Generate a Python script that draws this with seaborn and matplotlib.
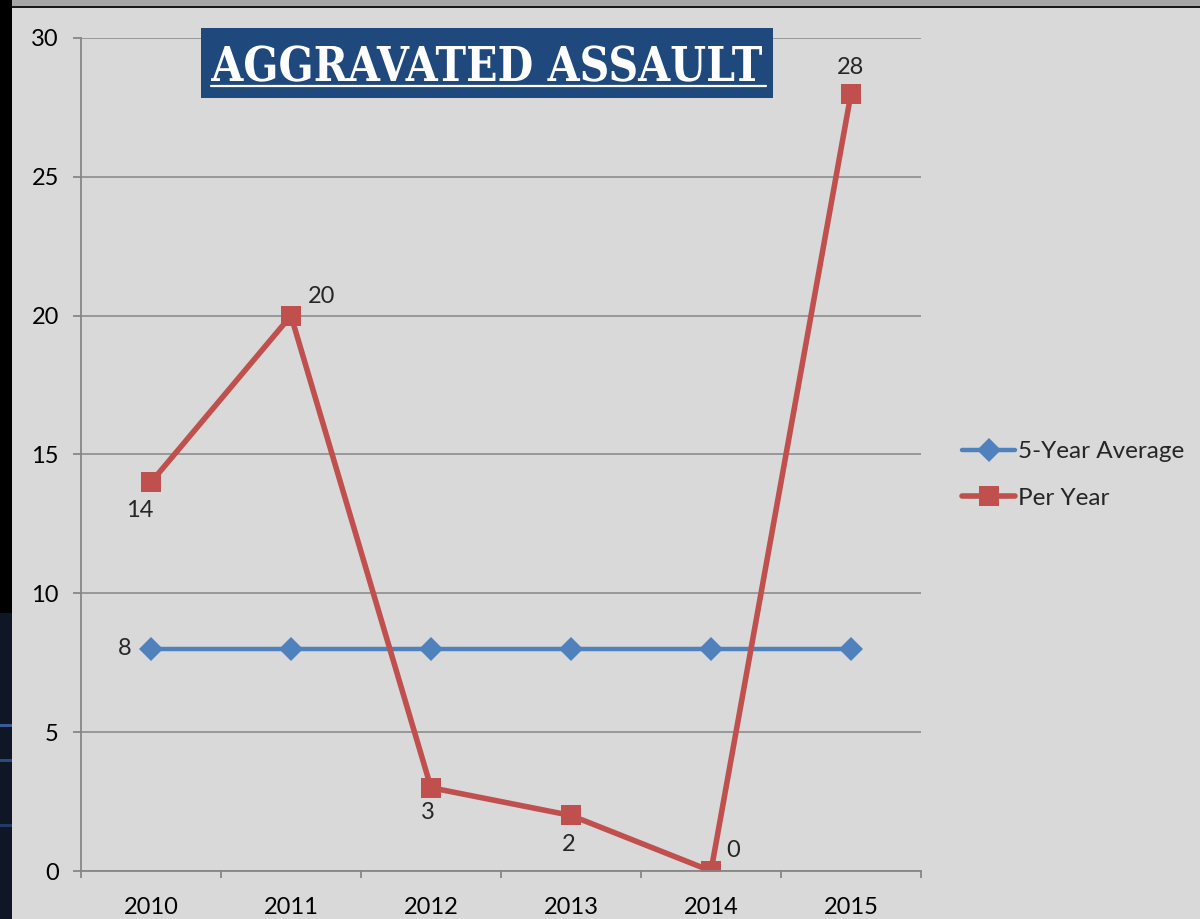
import numpy as np
import pandas as pd
import matplotlib
matplotlib.use('Agg')
import matplotlib.pyplot as plt
import seaborn as sns
from matplotlib.patches import Rectangle, PathPatch
from matplotlib.lines import Line2D
from matplotlib.textpath import TextPath
from matplotlib.font_manager import FontProperties
from matplotlib.transforms import Affine2D, IdentityTransform

years = ['2010', '2011', '2012', '2013', '2014', '2015']
five_year_avg = [8, 8, 8, 8, 8, 8]
per_year = [14, 20, 3, 2, 0, 28]
title = 'AGGRAVATED ASSAULT'

bg = '#d9d9d9'
blue = '#4f81bd'
red = '#c0504d'
grid_col = '#868686'

sns.set_theme(style='white')
plt.rcParams['font.family'] = ['Lato', 'DejaVu Sans']

W, H = 1200, 919
fig = plt.figure(figsize=(12, 9.19), dpi=100)
fig.patch.set_facecolor(bg)
ax = fig.add_axes([81/W, 48/H, 840/W, 833/H])
ax.set_facecolor(bg)

df = pd.DataFrame({'Year': years, 'avg': five_year_avg, 'per': per_year})
sns.lineplot(data=df, x='Year', y='avg', ax=ax, color=blue, lw=3.2,
             marker='D', markersize=12.5, markeredgewidth=0, sort=False)
sns.lineplot(data=df, x='Year', y='per', ax=ax, color=red, lw=4.0,
             marker='s', markersize=14.5, markeredgewidth=0, sort=False)

ax.set_xlim(-0.5, 5.5)
ax.set_ylim(0, 30)
ax.set_yticks(np.arange(0, 31, 5))
ax.set_xticks(range(len(years)))
ax.set_xticklabels(years)
ax.set_xticks(np.arange(-0.5, 6, 1), minor=True)
ax.set_xlabel('')
ax.set_ylabel('')
ax.grid(axis='y', color=grid_col, lw=1.1)
ax.set_axisbelow(True)
for s in ['top', 'right']:
    ax.spines[s].set_visible(False)
for s in ['left', 'bottom']:
    ax.spines[s].set_color(grid_col)
    ax.spines[s].set_linewidth(1.3)
ax.tick_params(axis='y', which='major', direction='out', length=6, width=1.3,
               color=grid_col, left=True, labelsize=17, pad=10, labelcolor='black')
ax.tick_params(axis='x', which='major', length=0, labelsize=17, pad=19,
               labelcolor='black')
ax.tick_params(axis='x', which='minor', direction='out', length=5, width=1.3,
               color=grid_col, bottom=True)

# data labels
ax.annotate('8', (0, 8), xytext=(-19, 0), textcoords='offset points',
            ha='center', va='center', fontsize=17)
offsets = [(-8, -20), (22, 14), (-2, -18), (-2, -21), (16, 15), (0, 19)]
for i, v in enumerate(per_year):
    dx, dy = offsets[i]
    ax.annotate(str(v), (i, v), xytext=(dx, dy), textcoords='offset points',
                ha='center', va='center', fontsize=17)

handles = [Line2D([], [], color=blue, lw=3.2, marker='D', markersize=12.5, markeredgewidth=0),
           Line2D([], [], color=red, lw=4.0, marker='s', markersize=14.5, markeredgewidth=0)]
fig.legend(handles, ['5-Year Average', 'Per Year'], loc='center left',
           bbox_to_anchor=(962/W, 1 - 475/H), bbox_transform=fig.transFigure,
           frameon=False, fontsize=17.5, handlelength=2.2, handletextpad=0.12,
           labelspacing=1.05, borderpad=0, borderaxespad=0)

# title box
fig.add_artist(Rectangle((201/W, 1 - 98/H), 572/W, 70/H,
                         transform=fig.transFigure, facecolor='#1f497d',
                         edgecolor='none', zorder=5))
fp = FontProperties(family='DejaVu Serif', weight='bold')
tp = TextPath((0, 0), title, size=40, prop=fp)
ext = tp.get_extents()
cap = TextPath((0, 0), 'A', size=40, prop=fp).get_extents()
sx = 551 / ext.width
sy = 35 / cap.height
tr = Affine2D().translate(-ext.x0, 0).scale(sx, sy).translate(211, H - 81)
fig.add_artist(PathPatch(tr.transform_path(tp), transform=IdentityTransform(),
                         facecolor='white', edgecolor='none', zorder=6))
fig.add_artist(Line2D([211/W, 766/W], [1 - 86/H, 1 - 86/H],
                      transform=fig.transFigure, color='white', lw=1.6, zorder=6))

# slide frame edges
fig.add_artist(Rectangle((0, 0), 12/W, 1, transform=fig.transFigure,
                         facecolor='black', edgecolor='none'))
fig.add_artist(Rectangle((0, 0), 12/W, 1 - 613/H, transform=fig.transFigure,
                         facecolor='#0f1626', edgecolor='none'))
for yy, c in [(727, '#3a5a9a'), (762, '#2d4a80'), (827, '#233a66')]:
    fig.add_artist(Rectangle((0, 1 - yy/H), 12/W, 3/H, transform=fig.transFigure,
                             facecolor=c, edgecolor='none'))
fig.add_artist(Rectangle((12/W, 1 - 6/H), 1, 6/H, transform=fig.transFigure,
                         facecolor='#a6a6a6', edgecolor='none'))
fig.add_artist(Rectangle((12/W, 1 - 8/H), 1, 2/H, transform=fig.transFigure,
                         facecolor='#1a1a1a', edgecolor='none'))

fig.savefig('out.png', dpi=100, facecolor=bg)
